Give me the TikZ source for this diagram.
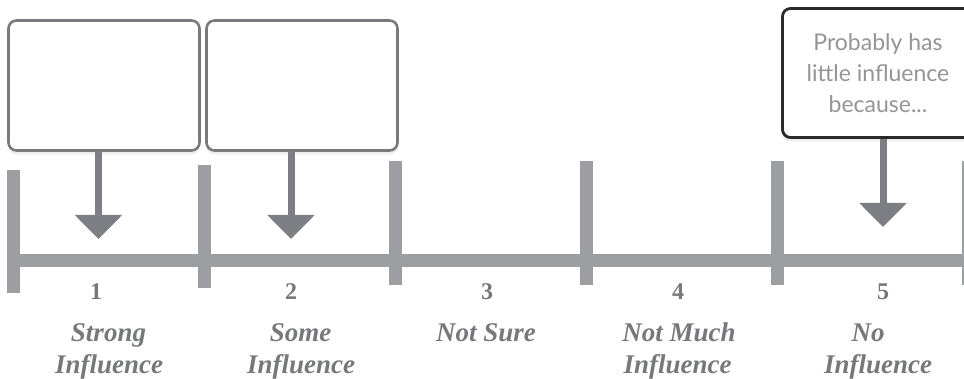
\documentclass[tikz,border=0pt]{standalone}
\usepackage{fontspec}
\setmainfont{Liberation Serif}
\newfontfamily\handfont{Lato}
\usetikzlibrary{arrows.meta,shadows}

\definecolor{barGray}{HTML}{9D9EA2}
\definecolor{arrowGray}{HTML}{7E7F84}
\definecolor{cardEdge}{HTML}{7A7A7E}
\definecolor{noteEdge}{HTML}{2A2A2A}
\definecolor{labelGray}{HTML}{77787C}
\definecolor{noteInk}{HTML}{959595}

\begin{document}
\begin{tikzpicture}[x=1pt,y=1pt,
  card/.style={draw=cardEdge, line width=2.6pt, rounded corners=8pt, fill=white,
    minimum width=191pt, minimum height=130pt, inner sep=0pt,
    drop shadow={opacity=0.14, shadow xshift=0pt, shadow yshift=-4pt}},
  notecard/.style={card, draw=noteEdge, line width=2.8pt, minimum height=129pt,
    align=center, font=\handfont\fontsize{23}{31}\selectfont, text=noteInk},
  tickbar/.style={fill=barGray, inner sep=0pt, minimum width=13pt, minimum height=124pt},
  pointer/.style={draw=arrowGray, line width=7pt,
    -{Triangle[width=46pt,length=24pt]}, arrowGray},
  numlabel/.style={anchor=base, text=labelGray, inner sep=0pt,
    font=\bfseries\fontsize{24}{24}\selectfont},
  wordlabel/.style={anchor=base, text=labelGray, inner sep=0pt,
    font=\bfseries\itshape\fontsize{27}{27}\selectfont}
]
\useasboundingbox (0,0) rectangle (964,379);

% scale: horizontal bar and the six ticks
\node[fill=barGray, inner sep=0pt, minimum width=957pt, minimum height=13pt,
  anchor=west] (bar) at (7,118.5) {};
\node[tickbar, minimum height=123pt] (t1) at (13.5,147.5) {};
\node[tickbar, minimum height=123pt] (t2) at (204.5,152.5) {};
\node[tickbar] (t3) at (395.5,156) {};
\node[tickbar] (t4) at (586.5,156) {};
\node[tickbar] (t5) at (777.5,156) {};
\node[tickbar] (t6) at (968.5,156) {};

% arrow tips
\coordinate (tip1) at (98.5,140);
\coordinate (tip2) at (291,140);
\coordinate (tip5) at (883,152);

% cards
\node[card] (b1) at (104,293.5) {};
\node[card] (b2) at (302,293.5) {};
\node[notecard] (b5) at (878,306) {Probably has\\little influence\\because...};

% arrows from the cards down to the scale
\draw[pointer] (b1.south -| tip1) -- (tip1);
\draw[pointer] (b2.south -| tip2) -- (tip2);
\draw[pointer] (b5.south -| tip5) -- (tip5);

% scale labels
\node[numlabel] (n1) at (96,79) {1};
\node[wordlabel] (w1a) at (108.5,37) {Strong};
\node[wordlabel] (w1b) at (109,5) {Influence};

\node[numlabel] (n2) at (291,79) {2};
\node[wordlabel] (w2a) at (300.5,37) {Some};
\node[wordlabel] (w2b) at (301,5) {Influence};

\node[numlabel] (n3) at (487,79) {3};
\node[wordlabel] (w3a) at (486,37) {Not Sure};

\node[numlabel] (n4) at (678,79) {4};
\node[wordlabel] (w4a) at (679,37) {Not Much};
\node[wordlabel] (w4b) at (677.5,5) {Influence};

\node[numlabel] (n5) at (883,79) {5};
\node[wordlabel] (w5a) at (868,37) {No};
\node[wordlabel] (w5b) at (878,5) {Influence};
\end{tikzpicture}
\end{document}
